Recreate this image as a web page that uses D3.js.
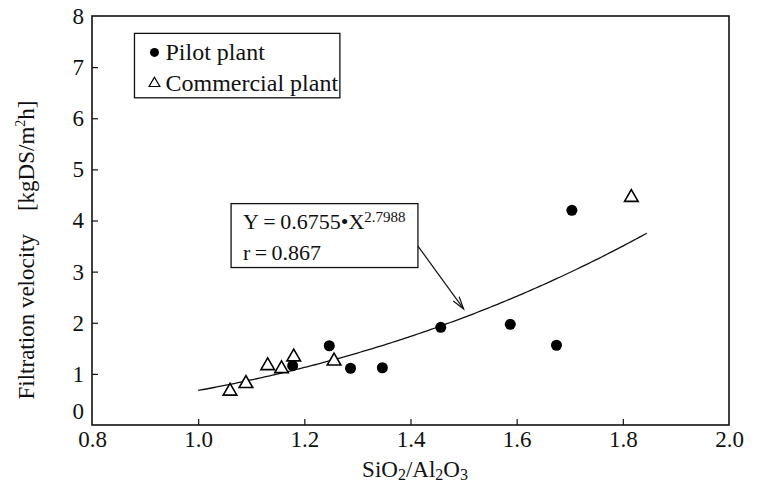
<html>
  <head>
    <style>
      body { margin: 0; background: #fff; }
      svg text { font-family: "Liberation Serif", "Times New Roman", Times, "DejaVu Serif", serif !important; fill: #111; }
    </style>
  </head>
  <body>
    <script src="https://d3js.org/d3.v7.min.js"></script>
    <script>
    var width = 757, height = 484;
    var margin = {left: 92, right: 20, top: 15, bottom: 59};
    var serif = '"Liberation Serif", "Times New Roman", serif';

    // data
    var pilotX = [1.178, 1.247, 1.287, 1.347, 1.457, 1.588, 1.675, 1.704];
    var pilotY = [1.16, 1.55, 1.11, 1.12, 1.91, 1.97, 1.56, 4.20];
    var commX = [1.060, 1.090, 1.131, 1.157, 1.180, 1.256, 1.816];
    var commY = [0.68, 0.83, 1.18, 1.12, 1.35, 1.27, 4.47];
    var xTicks = [0.8, 1.0, 1.2, 1.4, 1.6, 1.8, 2.0];
    var yTicks = [0, 1, 2, 3, 4, 5, 6, 7, 8];
    var fitA = 0.6755, fitB = 2.7988, fitR = 0.867;
    var fitRange = [1.0, 1.845];

    var svg = d3.select("body")
        .append("svg")
        .attr("width", width)
        .attr("height", height)
        .attr("font-family", serif);

    var x = d3.scaleLinear().domain([0.8, 2.0]).range([margin.left, width - margin.right - 8]);
    var y = d3.scaleLinear().domain([0, 8]).range([height - margin.bottom, margin.top + 1]);

    // frame
    svg.append("rect")
        .attr("x", x(0.8)).attr("y", y(8))
        .attr("width", x(2.0) - x(0.8)).attr("height", y(0) - y(8))
        .attr("fill", "none").attr("stroke", "#111").attr("stroke-width", 1.6);

    // y axis (inner ticks)
    var yAxis = svg.append("g")
        .attr("transform", "translate(" + x(0.8) + ",0)")
        .call(d3.axisLeft(y).tickValues(yTicks).tickSize(-6).tickPadding(8).tickFormat(d3.format("d")));
    yAxis.attr("font-family", serif);
    yAxis.select(".domain").remove();
    yAxis.selectAll("text").style("font-size", "23px").attr("fill", "#111")
        .attr("dy", function(d) { return d === 0 ? "-0.3em" : "0.32em"; });
    yAxis.selectAll("line").attr("stroke", "#111").attr("stroke-width", 1.2)
        .style("display", function(d) { return d === 0 || d === 8 ? "none" : null; });

    // x axis (inner ticks)
    var xAxis = svg.append("g")
        .attr("transform", "translate(0," + y(0) + ")")
        .call(d3.axisBottom(x).tickValues(xTicks).tickSize(-6).tickPadding(6).tickFormat(d3.format(".1f")));
    xAxis.attr("font-family", serif);
    xAxis.select(".domain").remove();
    xAxis.selectAll("text").style("font-size", "23px").attr("fill", "#111");
    xAxis.selectAll("line").attr("stroke", "#111").attr("stroke-width", 1.2)
        .style("display", function(d) { return d === 0.8 || d === 2.0 ? "none" : null; });

    // axis titles
    var xt = svg.append("text")
        .attr("x", 415).attr("y", 477)
        .attr("text-anchor", "middle")
        .style("font-size", "23px");
    xt.append("tspan").text("SiO");
    xt.append("tspan").text("2").style("font-size", "16px").attr("dy", 3);
    xt.append("tspan").text("/Al").attr("dy", -3);
    xt.append("tspan").text("2").style("font-size", "16px").attr("dy", 3);
    xt.append("tspan").text("O").attr("dy", -3);
    xt.append("tspan").text("3").style("font-size", "16px").attr("dy", 3);

    var yt = svg.append("text")
        .attr("transform", "translate(34,250) rotate(-90)")
        .attr("text-anchor", "middle")
        .style("font-size", "23px");
    yt.append("tspan").text("Filtration velocity\u00a0\u00a0\u00a0\u00a0[kgDS/m");
    yt.append("tspan").text("2").style("font-size", "14px").attr("dy", -9);
    yt.append("tspan").text("h]").attr("dy", 9);

    // fitted curve
    var curveX = d3.range(fitRange[0], fitRange[1] + 0.0001, 0.005);
    var line = d3.line()
        .x(function(d) { return x(d); })
        .y(function(d) { return y(fitA * Math.pow(d, fitB)); });
    svg.append("path")
        .datum(curveX)
        .attr("d", line)
        .attr("fill", "none").attr("stroke", "#111").attr("stroke-width", 1.3);

    // points
    svg.selectAll(".pilot")
        .data(d3.range(pilotX.length))
        .enter().append("circle")
        .attr("class", "pilot")
        .attr("cx", function(i) { return x(pilotX[i]); })
        .attr("cy", function(i) { return y(pilotY[i]); })
        .attr("r", 5.5)
        .attr("fill", "#000");

    var tri = d3.symbol().type(d3.symbolTriangle).size(80);
    svg.selectAll(".comm")
        .data(d3.range(commX.length))
        .enter().append("path")
        .attr("class", "comm")
        .attr("d", tri)
        .attr("transform", function(i) { return "translate(" + x(commX[i]) + "," + (y(commY[i]) + 1) + ")"; })
        .attr("fill", "#fff").attr("stroke", "#000").attr("stroke-width", 1.6);

    // legend
    var lx = x(0.88), ly = y(7.66);
    svg.append("rect")
        .attr("x", lx).attr("y", ly)
        .attr("width", x(1.267) - lx).attr("height", y(6.4) - ly)
        .attr("fill", "#fff").attr("stroke", "#111").attr("stroke-width", 1.3);
    svg.append("circle")
        .attr("cx", lx + 20).attr("cy", ly + 19).attr("r", 4.5).attr("fill", "#000");
    svg.append("text")
        .attr("x", lx + 31).attr("y", ly + 27)
        .style("font-size", "24px").text("Pilot plant");
    svg.append("path")
        .attr("d", d3.symbol().type(d3.symbolTriangle).size(50))
        .attr("transform", "translate(" + (lx + 20) + "," + (ly + 50) + ")")
        .attr("fill", "#fff").attr("stroke", "#000").attr("stroke-width", 1.2);
    svg.append("text")
        .attr("x", lx + 31).attr("y", ly + 58)
        .style("font-size", "24px").text("Commercial plant");

    // annotation box + arrow
    var bx0 = x(1.062), by0 = y(4.33), bx1 = x(1.414), by1 = y(3.08);
    svg.append("rect")
        .attr("x", bx0).attr("y", by0)
        .attr("width", bx1 - bx0).attr("height", by1 - by0)
        .attr("fill", "#fff").attr("stroke", "#111").attr("stroke-width", 1.3);
    var eq = svg.append("text")
        .attr("x", bx0 + 12).attr("y", by0 + 25)
        .style("font-size", "22px");
    eq.append("tspan").text("Y\u2009=\u20090.6755\u2022X");
    eq.append("tspan").text("2.7988").style("font-size", "15px").attr("dy", -7);
    svg.append("text")
        .attr("x", bx0 + 12).attr("y", by0 + 56)
        .style("font-size", "22px").text("r\u2009=\u2009" + fitR);

    var ax0 = bx1, ay0 = y(3.5), ax1 = x(1.5), ay1 = y(2.27);
    svg.append("line")
        .attr("x1", ax0).attr("y1", ay0).attr("x2", ax1).attr("y2", ay1)
        .attr("stroke", "#111").attr("stroke-width", 1.2);
    var ang = Math.atan2(ay1 - ay0, ax1 - ax0);
    var hl = 13, hw = 0.28;
    svg.append("path")
        .attr("d", "M" + (ax1 - hl * Math.cos(ang - hw)) + "," + (ay1 - hl * Math.sin(ang - hw)) +
                   "L" + ax1 + "," + ay1 +
                   "L" + (ax1 - hl * Math.cos(ang + hw)) + "," + (ay1 - hl * Math.sin(ang + hw)))
        .attr("fill", "none").attr("stroke", "#111").attr("stroke-width", 1.2);
    </script>
  </body>
</html>
